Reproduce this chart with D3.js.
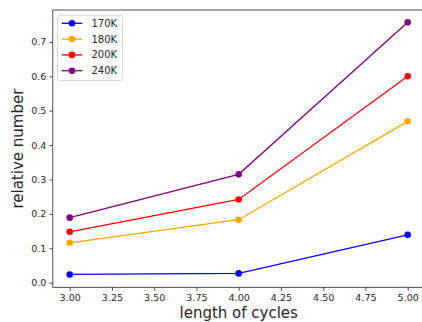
<!DOCTYPE html>
<html>
<head>
<meta charset="utf-8">
<script src="https://cdn.jsdelivr.net/npm/d3@7"></script>
<style>
  html, body { margin: 0; padding: 0; background: #fff; }
  svg { display: block; font-family: "DejaVu Sans", sans-serif; }
</style>
</head>
<body>
<svg id="chart" width="422" height="322"></svg>
<script>
// Cycle lengths on the x axis
const cycleLengths = [3, 4, 5];

// Relative number of cycles at each temperature
const temps = ["170K", "180K", "200K", "240K"];
const values170 = [0.024, 0.027, 0.139];
const values180 = [0.116, 0.183, 0.469];
const values200 = [0.148, 0.242, 0.600];
const values240 = [0.189, 0.315, 0.757];
const colors = ["#0000ff", "#ffa500", "#ff0000", "#800080"];

// Tick labels
const xTicks = [3.00, 3.25, 3.50, 3.75, 4.00, 4.25, 4.50, 4.75, 5.00];
const yTicks = [0.0, 0.1, 0.2, 0.3, 0.4, 0.5, 0.6, 0.7];

const series = [values170, values180, values200, values240].map((vals, i) => ({
  name: temps[i],
  color: colors[i],
  points: vals.map((v, j) => ({ x: cycleLengths[j], y: v }))
}));

const svg = d3.select("#chart");
const plot = { left: 52.8, right: 424.6, top: 10, bottom: 287.3 };

const x = d3.scaleLinear().domain([2.9, 5.1]).range([plot.left, plot.right]);
const y = d3.scaleLinear().domain([-0.0134, 0.7927]).range([plot.bottom, plot.top]);

const textColor = "#262626";

// Axes
const xAxis = d3.axisBottom(x).tickValues(xTicks).tickFormat(d3.format(".2f")).tickSizeOuter(0).tickSize(3.5).tickPadding(3);
const yAxis = d3.axisLeft(y).tickValues(yTicks).tickFormat(d3.format(".1f")).tickSizeOuter(0).tickSize(3.5).tickPadding(3);

const gx = svg.append("g").attr("transform", `translate(0,${plot.bottom})`).call(xAxis);
const gy = svg.append("g").attr("transform", `translate(${plot.left},0)`).call(yAxis);
[gx, gy].forEach(g => {
  g.select(".domain").remove();
  g.selectAll("line").attr("stroke", textColor).attr("stroke-width", 0.8);
  g.selectAll("text").attr("fill", textColor).style("font-size", "9.5px").style("font-family", "DejaVu Sans, sans-serif");
});

// Frame
svg.append("rect")
  .attr("x", plot.left).attr("y", plot.top)
  .attr("width", plot.right - plot.left).attr("height", plot.bottom - plot.top)
  .attr("fill", "none").attr("stroke", textColor).attr("stroke-width", 0.8);

// Lines and markers
const line = d3.line().x(d => x(d.x)).y(d => y(d.y));
series.forEach(s => {
  svg.append("path").datum(s.points)
    .attr("d", line).attr("fill", "none")
    .attr("stroke", s.color).attr("stroke-width", 1.3);
  svg.selectAll(null).data(s.points).enter().append("circle")
    .attr("cx", d => x(d.x)).attr("cy", d => y(d.y))
    .attr("r", 3.3).attr("fill", s.color);
});

// Axis titles
svg.append("text")
  .attr("x", (plot.left + plot.right) / 2).attr("y", 318)
  .attr("text-anchor", "middle").attr("fill", textColor)
  .style("font-size", "15px").text("length of cycles");

svg.append("text")
  .attr("transform", `translate(23,${(plot.top + plot.bottom) / 2}) rotate(-90)`)
  .attr("text-anchor", "middle").attr("fill", textColor)
  .style("font-size", "15px").text("relative number");

// Legend
const legend = svg.append("g");
legend.append("rect")
  .attr("x", 57.5).attr("y", 15).attr("width", 65).attr("height", 65.5)
  .attr("rx", 2.5).attr("fill", "#fff").attr("fill-opacity", 0.8)
  .attr("stroke", "#cccccc").attr("stroke-width", 0.8);
series.forEach((s, i) => {
  const ly = 23.3 + i * 15.8;
  legend.append("line").attr("x1", 61.7).attr("x2", 82.3).attr("y1", ly).attr("y2", ly)
    .attr("stroke", s.color).attr("stroke-width", 1.3);
  legend.append("circle").attr("cx", 72).attr("cy", ly).attr("r", 3.3).attr("fill", s.color);
  legend.append("text").attr("x", 91.5).attr("y", ly).attr("dy", "0.35em")
    .attr("fill", textColor).style("font-size", "10px").text(s.name);
});
</script>
</body>
</html>
